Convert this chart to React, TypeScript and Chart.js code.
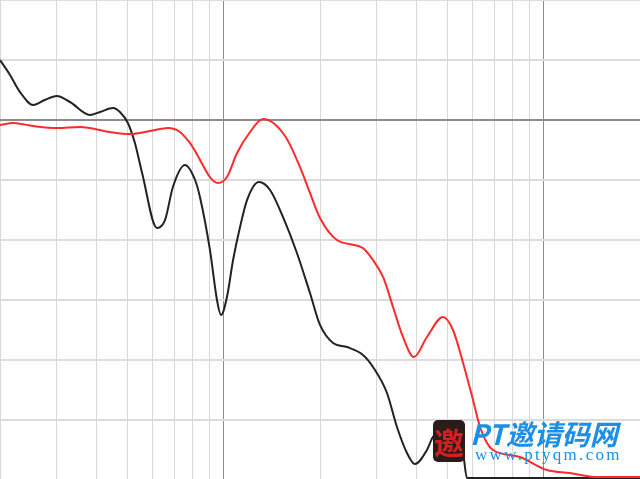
import React, { useEffect, useRef } from "react";
import { Chart, registerables } from "chart.js";

Chart.register(...registerables);

// Frequency (Hz) and level (dB)
const blackFreq = [20, 21.5, 23.1, 25.4, 27.6, 30.1, 33.1, 38.2, 41.1, 45.1, 47.4, 50.2, 52.8, 55.6, 61.9, 65.6, 69.4, 75.7, 81.4, 84.3, 90.6, 95.3, 98.1, 102.4, 107.0, 112.5, 118.3, 128.9, 139.6, 153.2, 169.4, 186.1, 200, 219.7, 243, 272.4, 292.8, 323.8, 348, 374, 396, 431.8, 451, 498.8, 536, 560, 575.6, 800, 1200, 2000];
const blackDb = [5.0, 3.75, 2.33, 1.25, 1.67, 2.0, 1.5, 0.42, 0.67, 1.0, 0.67, -0.25, -1.92, -4.42, -9.0, -8.33, -5.58, -3.75, -5.0, -6.42, -10.83, -15.0, -16.25, -14.75, -11.67, -8.92, -6.67, -5.17, -5.83, -8.08, -11.08, -14.42, -17.08, -18.58, -18.92, -19.58, -20.58, -22.75, -25.58, -27.75, -28.67, -27.5, -26.4, -25.6, -26.5, -27.75, -29.83, -29.83, -29.83, -29.83];

const redFreq = [20, 22.0, 25.4, 30.1, 35.6, 44.1, 51.0, 58.9, 67.0, 73.0, 78.5, 96.0, 102.4, 110.1, 120.9, 132.7, 155.5, 173.2, 186.1, 200, 226, 272.4, 292.8, 314.8, 338.2, 363.4, 393.2, 431.8, 484.6, 520.8, 560, 601.4, 632.5, 665, 694, 843, 1024, 1208, 1468, 2000];
const redDb = [-0.42, -0.25, -0.5, -0.67, -0.58, -1.0, -1.17, -0.92, -0.67, -1.0, -1.92, -5.25, -4.75, -2.75, -1.0, 0.08, -1.33, -3.92, -6.08, -8.17, -10.0, -10.67, -11.67, -13.08, -15.58, -18.08, -19.75, -18.08, -16.42, -17.5, -20.25, -23.33, -25.58, -26.92, -27.5, -28.08, -29.17, -29.42, -29.75, -29.75];

const xTicks = [20, 30, 40, 50, 60, 70, 80, 90, 100, 200, 300, 400, 500, 600, 700, 800, 900, 1000, 2000];
const yTicks = [-30, -25, -20, -15, -10, -5, 0, 5, 10];

export default function App() {
  const ref = useRef<HTMLCanvasElement | null>(null);

  useEffect(() => {
    if (!ref.current) return;
    const toPts = (xs: number[], ys: number[]) => xs.map((x, i) => ({ x, y: ys[i] }));
    const chart = new Chart(ref.current, {
      type: "line",
      data: {
        datasets: [
          {
            data: toPts(redFreq, redDb),
            borderColor: "#ff2a2a",
            borderWidth: 2,
            pointRadius: 0,
            cubicInterpolationMode: "monotone",
          },
          {
            data: toPts(blackFreq, blackDb),
            borderColor: "#222222",
            borderWidth: 2,
            pointRadius: 0,
            cubicInterpolationMode: "monotone",
          },
        ],
      },
      options: {
        animation: false,
        responsive: false,
        layout: { padding: 0 },
        plugins: { legend: { display: false }, tooltip: { enabled: false } },
        scales: {
          x: {
            type: "logarithmic",
            min: 20,
            max: 2000,
            afterBuildTicks: (s: any) => {
              s.ticks = xTicks.map((v) => ({ value: v }));
            },
            ticks: { display: false },
            border: { display: false },
            grid: {
              drawTicks: false,
              lineWidth: 1,
              color: (c: any) => (c.tick && (c.tick.value === 100 || c.tick.value === 1000) ? "#8c8c8c" : "#d8d8d8"),
            },
          },
          y: {
            type: "linear",
            min: -30,
            max: 10,
            afterBuildTicks: (s: any) => {
              s.ticks = yTicks.map((v) => ({ value: v }));
            },
            ticks: { display: false },
            border: { display: false },
            grid: {
              drawTicks: false,
              lineWidth: 2,
              color: (c: any) => (c.tick && c.tick.value === 0 ? "#8c8c8c" : "#dcdcdc"),
            },
          },
        },
      },
    });
    return () => chart.destroy();
  }, []);

  return (
    <div style={{ position: "fixed", left: 0, top: 0, width: 640, height: 480, overflow: "hidden", background: "#fff" }}>
      <canvas ref={ref} width={640} height={480} style={{ display: "block" }} />
      <div
        style={{
          position: "absolute",
          left: 433,
          top: 420,
          width: 32,
          height: 42,
          background: "#2b1c1c",
          borderRadius: 5,
          color: "#d42020",
          fontFamily: "'Noto Sans CJK SC'",
          fontSize: 30,
          fontWeight: 700,
          lineHeight: "42px",
          textAlign: "center",
        }}
      >
        邀
      </div>
      <div
        style={{
          position: "absolute",
          left: 470,
          top: 416,
          color: "#1e8fe3",
          fontFamily: "'Noto Sans CJK SC'",
          fontSize: 28,
          fontWeight: 700,
          fontStyle: "italic",
          lineHeight: "34px",
          whiteSpace: "nowrap",
        }}
      >
        PT邀请码网
      </div>
      <div
        style={{
          position: "absolute",
          left: 475,
          top: 446,
          color: "#1e8fe3",
          fontFamily: "'Liberation Serif'",
          fontSize: 17,
          letterSpacing: 2.3,
          lineHeight: "18px",
          whiteSpace: "nowrap",
        }}
      >
        www.ptyqm.com
      </div>
    </div>
  );
}
